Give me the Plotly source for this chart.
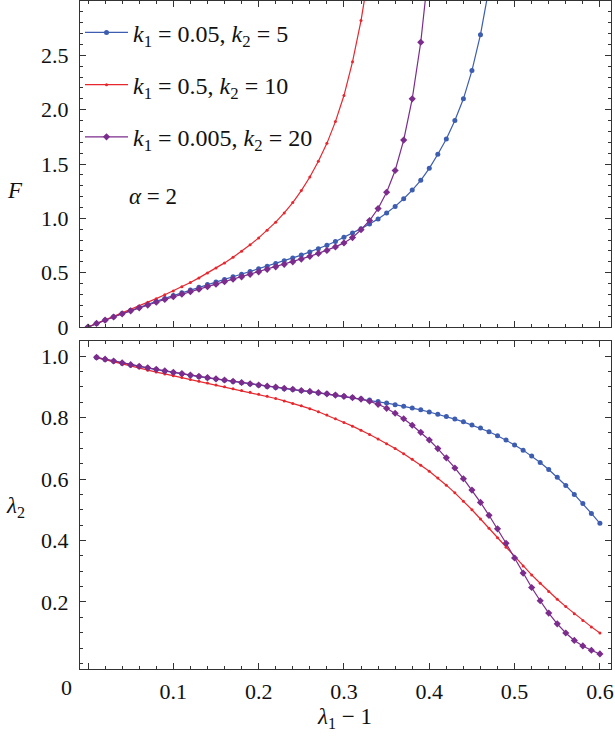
import plotly.graph_objects as go
from plotly.subplots import make_subplots

# ---------------- data ----------------
lam1_minus_1 = [0.00, 0.01, 0.02, 0.03, 0.04, 0.05, 0.06, 0.07, 0.08, 0.09,
                0.10, 0.11, 0.12, 0.13, 0.14, 0.15, 0.16, 0.17, 0.18, 0.19,
                0.20, 0.21, 0.22, 0.23, 0.24, 0.25, 0.26, 0.27, 0.28, 0.29,
                0.30, 0.31, 0.32, 0.33, 0.34, 0.35, 0.36, 0.37, 0.38, 0.39,
                0.40, 0.41, 0.42, 0.43, 0.44, 0.45, 0.46, 0.47, 0.48, 0.49,
                0.50, 0.51, 0.52, 0.53, 0.54, 0.55, 0.56, 0.57, 0.58, 0.59, 0.60]

series_names = ["<i>k</i><sub>1</sub> = 0.05, <i>k</i><sub>2</sub> = 5",
                "<i>k</i><sub>1</sub> = 0.5, <i>k</i><sub>2</sub> = 10",
                "<i>k</i><sub>1</sub> = 0.005, <i>k</i><sub>2</sub> = 20"]

# F (top panel), starting at lambda1-1 = 0
F_blue = [0.0, 0.033, 0.064, 0.094, 0.124, 0.153, 0.181, 0.209, 0.236, 0.263,
          0.289, 0.315, 0.34, 0.365, 0.39, 0.414, 0.438, 0.462, 0.486, 0.51,
          0.535, 0.56, 0.585, 0.61, 0.636, 0.662, 0.69, 0.72, 0.752, 0.787,
          0.825, 0.865, 0.905, 0.948, 0.995, 1.05, 1.11, 1.18, 1.26, 1.35,
          1.46, 1.59, 1.73, 1.9, 2.1, 2.36, 2.69, 3.12]
F_red = [0.0, 0.032, 0.064, 0.096, 0.128, 0.161, 0.194, 0.227, 0.261, 0.296,
         0.332, 0.37, 0.41, 0.452, 0.496, 0.542, 0.59, 0.641, 0.696, 0.756,
         0.82, 0.89, 0.965, 1.05, 1.145, 1.255, 1.38, 1.525, 1.69, 1.89,
         2.13, 2.44, 2.82, 3.3]
F_purple = [0.0, 0.033, 0.063, 0.092, 0.121, 0.149, 0.176, 0.202, 0.228, 0.253,
            0.278, 0.302, 0.325, 0.348, 0.371, 0.394, 0.417, 0.44, 0.462, 0.485,
            0.508, 0.531, 0.554, 0.577, 0.6, 0.625, 0.65, 0.677, 0.705, 0.737,
            0.774, 0.823, 0.895, 0.98, 1.09, 1.24, 1.44, 1.72, 2.1, 2.62, 3.35]

# lambda2 (bottom panel), starting at lambda1-1 = 0.01
L2_blue = [0.995, 0.989, 0.983, 0.977, 0.971, 0.966, 0.961, 0.956, 0.951, 0.946,
           0.942, 0.937, 0.933, 0.929, 0.925, 0.921, 0.917, 0.913, 0.909, 0.905,
           0.901, 0.898, 0.894, 0.891, 0.887, 0.884, 0.88, 0.877, 0.873, 0.869,
           0.865, 0.861, 0.857, 0.852, 0.847, 0.842, 0.837, 0.831, 0.825, 0.818,
           0.811, 0.803, 0.795, 0.786, 0.776, 0.766, 0.754, 0.741, 0.727, 0.711,
           0.694, 0.675, 0.654, 0.631, 0.606, 0.579, 0.55, 0.52, 0.488, 0.456]
L2_red = [0.995, 0.988, 0.981, 0.974, 0.967, 0.961, 0.954, 0.948, 0.942, 0.936,
          0.93, 0.924, 0.918, 0.912, 0.906, 0.9, 0.894, 0.888, 0.882, 0.876,
          0.869, 0.862, 0.854, 0.846, 0.838, 0.829, 0.819, 0.808, 0.796, 0.784,
          0.772, 0.759, 0.745, 0.73, 0.715, 0.699, 0.682, 0.664, 0.645, 0.625,
          0.603, 0.58, 0.555, 0.528, 0.5, 0.47, 0.44, 0.409, 0.378, 0.347,
          0.317, 0.288, 0.261, 0.234, 0.209, 0.185, 0.162, 0.14, 0.119, 0.099]
L2_purple = [0.996, 0.99, 0.984, 0.978, 0.972, 0.967, 0.962, 0.957, 0.952, 0.947,
             0.943, 0.938, 0.934, 0.93, 0.926, 0.922, 0.918, 0.914, 0.91, 0.906,
             0.902, 0.899, 0.895, 0.892, 0.888, 0.885, 0.881, 0.877, 0.873, 0.869,
             0.865, 0.86, 0.853, 0.843, 0.83, 0.814, 0.796, 0.775, 0.752, 0.727,
             0.699, 0.669, 0.636, 0.601, 0.564, 0.524, 0.482, 0.438, 0.391, 0.343,
             0.294, 0.247, 0.204, 0.164, 0.129, 0.099, 0.075, 0.057, 0.043, 0.031]

F_ticks = [0, 0.5, 1.0, 1.5, 2.0, 2.5]
F_ticktext = ["0", "0.5", "1.0", "1.5", "2.0", "2.5"]
L2_ticks = [0.2, 0.4, 0.6, 0.8, 1.0]
L2_ticktext = ["0.2", "0.4", "0.6", "0.8", "1.0"]
x_ticks = [0, 0.1, 0.2, 0.3, 0.4, 0.5, 0.6]
x_ticktext = ["", "0.1", "0.2", "0.3", "0.4", "0.5", "0.6"]

# ---------------- style ----------------
colors = ["#3d5db0", "#e8262d", "#7b2c8c"]
symbols = ["circle", "circle", "diamond"]
msizes = [5, 3, 5.5]
FONT = "Liberation Serif"
FRAME = "#333333"
TXT = "#111111"

fig = make_subplots(rows=2, cols=1, shared_xaxes=False,
                    vertical_spacing=14 / 668, row_heights=[326, 328])

top_vals = [F_blue, F_red, F_purple]
bot_vals = [L2_blue, L2_red, L2_purple]
for i in range(3):
    fig.add_trace(go.Scatter(
        x=lam1_minus_1[:len(top_vals[i])], y=top_vals[i], mode="lines+markers",
        name=series_names[i], legendgroup="g%d" % i,
        line=dict(color=colors[i], width=1.2),
        marker=dict(color=colors[i], symbol=symbols[i], size=msizes[i])),
        row=1, col=1)
for i in range(3):
    fig.add_trace(go.Scatter(
        x=lam1_minus_1[1:1 + len(bot_vals[i])], y=bot_vals[i], mode="lines+markers",
        name=series_names[i], legendgroup="g%d" % i, showlegend=False,
        line=dict(color=colors[i], width=1.2),
        marker=dict(color=colors[i], symbol=symbols[i], size=msizes[i])),
        row=2, col=1)

xrange = [-0.0094, 0.613]
axis_common = dict(showline=True, linecolor=FRAME, linewidth=1.3, mirror="allticks",
                   ticks="inside", ticklen=6, tickwidth=1, tickcolor=FRAME,
                   showgrid=False, zeroline=False,
                   tickfont=dict(family=FONT, size=22, color=TXT))

fig.update_xaxes(**axis_common, range=xrange, tickmode="array", tickvals=x_ticks,
                 ticktext=x_ticktext,
                 minor=dict(ticks="inside", ticklen=3, dtick=0.02, tick0=0,
                            tickcolor=FRAME, showgrid=False))
fig.update_xaxes(showticklabels=False, row=1, col=1)
fig.update_xaxes(ticklabelstandoff=2, row=2, col=1)

fig.update_yaxes(**axis_common, range=[0, 3.0], tickmode="array", tickvals=F_ticks,
                 ticktext=F_ticktext, ticklabelstandoff=6,
                 minor=dict(ticks="inside", ticklen=3, dtick=0.1, tick0=0,
                            tickcolor=FRAME, showgrid=False),
                 row=1, col=1)
fig.update_yaxes(**axis_common, range=[-0.018, 1.049], tickmode="array", tickvals=L2_ticks,
                 ticktext=L2_ticktext, ticklabelstandoff=6,
                 minor=dict(ticks="inside", ticklen=3, dtick=0.05, tick0=0,
                            tickcolor=FRAME, showgrid=False),
                 row=2, col=1)

ann_font = dict(family=FONT, size=23, color=TXT)
def label(text, x, y, xanchor="center", size=None):
    f = dict(ann_font)
    if size:
        f["size"] = size
    fig.add_annotation(text=text, x=x, y=y, xref="paper", yref="paper",
                       xanchor=xanchor, yanchor="middle", showarrow=False, font=f)

label("<i>F</i>", -0.1224, 0.717)
label("<i>λ</i><sub>2</sub>", -0.1224, 0.2425)
label("<i>λ</i><sub>1</sub> − 1", 0.499, -0.0734)
label("<i>α</i> = 2", 0.0885, 0.7066, xanchor="left")
label("0", -0.0245, -0.027, size=22)

fig.update_layout(
    width=615, height=738,
    margin=dict(l=80, r=4, t=1, b=69),
    paper_bgcolor="white", plot_bgcolor="white",
    font=dict(family=FONT, size=22, color=TXT),
    legend=dict(x=0.0, xanchor="left", y=0.986, yanchor="top",
                bgcolor="rgba(0,0,0,0)", borderwidth=0,
                traceorder="grouped", tracegroupgap=18, itemwidth=43,
                font=dict(family=FONT, size=24, color=TXT)),
    showlegend=True,
)

fig.write_html("out.html", config={"displayModeBar": False},
               post_script="document.body.style.margin='0px';document.body.style.overflow='hidden';")
